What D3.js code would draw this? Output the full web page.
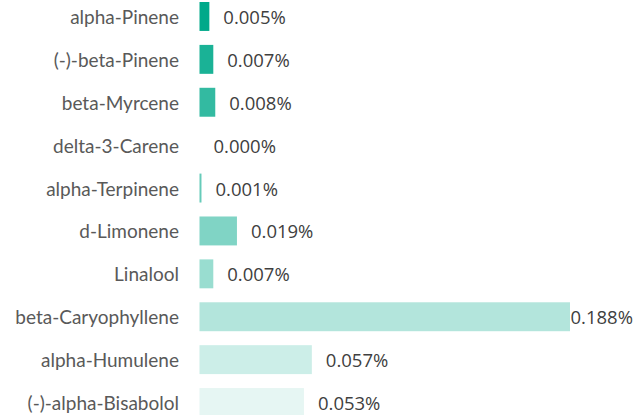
<!DOCTYPE html>
<html><head><meta charset="utf-8">
<script src="https://cdn.jsdelivr.net/npm/d3@7"></script>
<style>html,body{margin:0;padding:0;background:#fff;}svg{display:block;}</style>
</head><body>
<svg id="chart" width="634" height="415"></svg>
<script>
const categories = ["alpha-Pinene","(-)-beta-Pinene","beta-Myrcene","delta-3-Carene","alpha-Terpinene","d-Limonene","Linalool","beta-Caryophyllene","alpha-Humulene","(-)-alpha-Bisabolol"];
const values = [0.005,0.007,0.008,0.000,0.001,0.019,0.007,0.188,0.057,0.053];
const valueLabels = ["0.005%","0.007%","0.008%","0.000%","0.001%","0.019%","0.007%","0.188%","0.057%","0.053%"];
const opacities = [1,0.9,0.8,0.7,0.6,0.5,0.4,0.3,0.2,0.1];

const W = 634, H = 415;
const svg = d3.select("#chart");
const x = d3.scaleLinear().domain([0, 0.188]).range([199.5, 570]);
const y = d3.scaleBand().domain(categories).range([2, 417]).paddingInner(14/43).paddingOuter(0);
const base = "#00a98a";

const rows = categories.map((c,i)=>({c, v: values[i], l: valueLabels[i], o: opacities[i]}));

svg.selectAll("rect.bar").data(rows).join("rect")
  .attr("class","bar")
  .attr("x", x(0))
  .attr("y", d=>y(d.c))
  .attr("width", d=>x(d.v)-x(0))
  .attr("height", y.bandwidth())
  .attr("fill", d=>d3.interpolateRgb("#ffffff", base)(d.o));

svg.selectAll("text.cat").data(rows).join("text")
  .attr("class","cat")
  .attr("x", 179)
  .attr("y", d=>y(d.c)+22)
  .attr("text-anchor","end")
  .attr("fill","#595959")
  .style("font-family","Lato, 'Open Sans', sans-serif")
  .style("font-size","19px")
  .text(d=>d.c);

svg.selectAll("text.val").data(rows).join("text")
  .attr("class","val")
  .attr("y", d=>y(d.c)+22)
  .attr("fill","#404040")
  .style("font-family","'Open Sans', sans-serif")
  .style("font-size","18.5px")
  .text(d=>d.l)
  .attr("x", function(d){const w=this.getComputedTextLength(); return Math.min(x(d.v)+14, W-w-1);});
</script>
</body></html>
